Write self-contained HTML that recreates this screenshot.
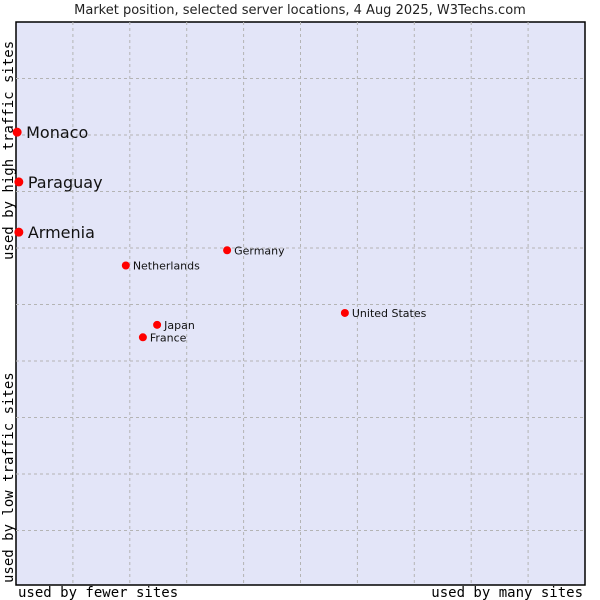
<!DOCTYPE html>
<html><head><meta charset="utf-8"><style>
body{margin:0;background:#fff;}
svg{display:block;font-family:"DejaVu Sans","Liberation Sans",sans-serif;}
</style></head><body>
<svg id="chart" width="600" height="600">
<text x="300" y="14" text-anchor="middle" font-size="13" fill="#222">Market position, selected server locations, 4 Aug 2025, W3Techs.com</text>
<rect x="16" y="22" width="569" height="563" fill="#e3e5f8" stroke="#000" stroke-width="1.5"/>
<g id="grid"></g>
<g id="points"></g>
<text x="18" y="597" font-family="'DejaVu Sans Mono','Liberation Mono',monospace" font-size="14" fill="#000">used by fewer sites</text>
<text x="583" y="597" text-anchor="end" font-family="'DejaVu Sans Mono','Liberation Mono',monospace" font-size="14" fill="#000">used by many sites</text>
<text transform="translate(13,583) rotate(-90)" font-family="'DejaVu Sans Mono','Liberation Mono',monospace" font-size="14" fill="#000">used by low traffic sites</text>
<text transform="translate(13,260) rotate(-90)" font-family="'DejaVu Sans Mono','Liberation Mono',monospace" font-size="14" fill="#000">used by high traffic sites</text>
</svg>
<script>
const names=["Monaco","Paraguay","Armenia","Germany","Netherlands","United States","Japan","France"];
const xValues=[0.2,0.5,0.5,37.1,19.3,57.8,24.8,22.3];
const yValues=[80.5,71.7,62.8,59.6,56.9,48.5,46.4,44.2];
const highlighted=[true,true,true,false,false,false,false,false];
const NS="http://www.w3.org/2000/svg";
const L=16,T=22,W=569,H=565;
const sx=v=>L+v/100*W, sy=v=>T+H-v/100*H;
const grid=document.getElementById('grid');
for(let i=1;i<10;i++){
  const vx=document.createElementNS(NS,'line');
  vx.setAttribute('x1',sx(i*10));vx.setAttribute('x2',sx(i*10));vx.setAttribute('y1',T);vx.setAttribute('y2',585);
  vx.setAttribute('stroke','#b4b4b4');vx.setAttribute('stroke-dasharray','3,3');
  
  
  grid.appendChild(vx);
  const hy=document.createElementNS(NS,'line');
  hy.setAttribute('x1',L);hy.setAttribute('x2',585);hy.setAttribute('y1',sy(i*10));hy.setAttribute('y2',sy(i*10));
  hy.setAttribute('stroke','#b4b4b4');hy.setAttribute('stroke-dasharray','3,3');
  
  
  grid.appendChild(hy);
}
const pts=document.getElementById('points');
names.forEach((n,i)=>{
  const g=document.createElementNS(NS,'g');
  
  
  const x=sx(xValues[i]),y=sy(yValues[i]);
  const c=document.createElementNS(NS,'circle');
  c.setAttribute('cx',x);c.setAttribute('cy',y);c.setAttribute('r',highlighted[i]?4.5:4);c.setAttribute('fill','#f00');
  
  
  g.appendChild(c);
  const t=document.createElementNS(NS,'text');
  t.setAttribute('x',x+(highlighted[i]?9:7));t.setAttribute('y',y+(highlighted[i]?6:4));
  t.setAttribute('font-size',highlighted[i]?16:11);t.setAttribute('fill','#111');
  t.textContent=n;
  
  
  g.appendChild(t);
  pts.appendChild(g);
});
</script>
</body></html>
